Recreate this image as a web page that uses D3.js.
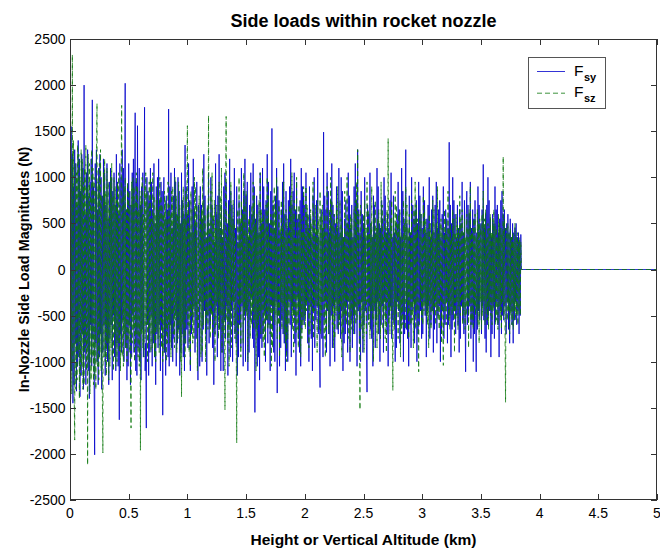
<!DOCTYPE html>
<html>
<head>
<meta charset="utf-8">
<script src="https://cdn.jsdelivr.net/npm/d3@7"></script>
<style>
  body { margin: 0; background: #fff; }
  text { font-family: "Liberation Sans", Arial, sans-serif; fill: #000; }
</style>
</head>
<body>
<div id="chart"></div>
<script>
// side loads (N), one sample every 0.005 km in 1 km pieces
var fsy0 = [
  1380, -1400, 1550, -1100, 1250, -1450, 900, -1250, 1300, -800,
  1150, -1320, 700, -1050, 1400, -950, 1200, -1380, 850, -1150,
  1250, -700, 1100, -1300, 2000, -900, 600, -1250, 1050, -850,
  1300, -1100, 800, -1400, 950, -600, 1200, -1050, 1840, -750,
  900, -1200, -2010, 1150, -800, 1300, -1000, 650, -1250, 1100,
  -950, 1250, -700, 1000, -1300, 800, -900, 1200, -600, 1050,
  -1150, 700, -850, 1150, -1000, 550, -1250, 950, -750, 1100,
  -600, 1000, -1200, 850, -500, 1050, -950, 700, -1100, 1250,
  -800, 950, -1050, 600, -1630, 1150, -700, 1000, -900, 1300,
  -550, 1100, -1000, 750, 2020, -850, 650, -1200, 900, -1050,
  1150, -600, 850, -1250, 700, -950, 1050, -500, 1200, -900,
  800, 1700, -1100, 950, -1150, 1560, -850, 600, 1100, -1000,
  700, -1200, 900, -650, 1050, -950, 550, 1760, -1100, -800,
  -1720, 1000, -600, 850, -1150, 750, -900, 1100, -500, 950,
  -1050, 650, -800, 1150, -950, 500, -1250, 900, -700, 1000,
  -850, 1200, -600, 750, -1100, 950, -650, 850, -1580, 700,
  1000, -900, 550, -1150, 800, -700, 650, -950, 1740, -1050,
  900, -600, 1050, -850, 450, -1000, 800, -750, 1100, -500,
  950, -1050, 600, -800, 1000, -650, 850, -1150, 500, -900,
  1050, -700, 750, -950, 600, -1100, 1350, -800, 900, -650
];
var fsy1 = [
  600, -850, 1150, -450, 750, -1100, 400, -700, 900, -550,
  1200, -400, 650, -900, 500, -750, 950, -600, -1200, 700,
  450, -1050, 900, -350, 700, -1000, 550, -650, 1250, -450,
  800, -700, 350, -1150, 650, -500, 1050, -800, 400, -600,
  1000, -450, 700, -850, 550, -1250, 300, -700, 1150, -400,
  600, -950, 800, -500, 1250, -650, 450, -1100, 700, -900,
  350, -1100, 900, -550, 1050, -750, 950, -400, 500, -1150,
  750, -600, 1200, -950, 850, -450, 700, -1000, 550, -350,
  1100, -700, 450, -800, 900, -1150, 300, -950, 750, -600,
  500, -850, 1100, -400, 650, -1050, 850, -500, 1200, -1000,
  800, -450, 950, -1100, 350, -900, 700, -550, 1050, -300,
  600, -750, 1150, -850, 900, -1550, 550, -650, 800, -1050,
  700, -950, 400, -1200, 1050, -750, 500, -850, 1100, -700,
  900, -450, 650, -1000, 750, -550, 1250, -800, 950, -600,
  500, -1100, 850, -400, 1530, -650, 700, -900, 450, -1000,
  800, -350, 1100, -1340, 900, -500, 750, -1050, 400, -850,
  650, -550, 950, -700, 1150, -800, 600, -1100, 850, -900,
  450, -1000, 750, -350, 900, -600, 1200, -950, 700, -400,
  850, -500, 1050, -800, 650, -1150, 950, -300, 550, -750,
  600, -900, 750, -1050, 1100, -650, 900, -550, 800, -600
];
var fsy2 = [
  700, -500, 1050, -350, 600, -800, 450, -1000, 900, -400,
  550, -750, 350, -1100, 800, -450, 1000, -850, 400, -550,
  750, -400, 1100, -700, 350, -900, -1280, 500, 650, -750,
  450, -950, 1490, -550, 800, -350, 650, -900, 1050, -450,
  850, -700, 400, -1050, 750, -500, 1150, -850, 700, -400,
  600, -1000, 500, -350, 900, -650, 450, -700, 1100, -550,
  400, -750, 1000, -450, 850, -1100, 350, -800, 550, -700,
  750, -400, 500, -900, 1050, -350, 800, -1000, 450, -550,
  700, -850, 350, -500, 900, -700, 1150, -400, 750, -1050,
  1300, -450, 650, -800, 400, -1000, 850, -350, 600, -900,
  500, -600, 1000, -450, 350, -800, -1330, 700, -550, 600,
  -400, 1050, -650, 500, -750, 350, -1050, 800, -450, 700,
  -850, 400, -550, 1100, -350, 900, -700, 500, -1000, 450,
  -600, 750, -400, 550, -900, 1000, -350, 800, -550, 400,
  -700, 600, -1050, 450, -500, 750, -400, 1050, -750, 350,
  -550, 800, -600, 400, -1000, 500, -850, 600, -350, 950,
  -450, 650, -800, 350, -600, 1100, -500, 850, -1000, 550,
  -700, 450, 1300, -650, 500, -750, 350, -1050, 800, -600,
  400, -850, 1000, -450, 700, -350, 550, -800, 650, -500,
  750, -1000, 500, -700, 950, -600, 800, -450, 600, -750
];
var fsy3 = [
  450, -700, 900, -350, 750, -500, 400, -950, 550, -450,
  700, -400, 1000, -750, 350, -600, 650, -450, 800, -900,
  400, -650, 700, -350, 950, -800, 450, -500, 650, -400,
  750, -1000, 350, -700, 600, -450, 900, -750, 400, -600,
  650, -350, 550, -800, 450, -600, 1380, -500, 700, -950,
  500, -650, 1000, -550, 750, -450, 600, -700, 350, -500,
  700, -600, 450, -900, 650, -750, 500, -400, 950, -550,
  400, -700, 750, -450, -1110, 550, 850, -600, 700, -500,
  600, -400, 950, -750, 450, -600, 650, -1000, 550, -700,
  750, -500, -1110, 400, -650, 900, -450, 700, -550, 350,
  500, -700, 650, -400, 1140, -550, 450, -750, 600, -900,
  700, -600, 1000, -500, 750, -450, 550, -950, 350, -700,
  600, -400, 500, -750, 900, -550, 650, -350, 700, -600,
  400, -950, 550, -450, 750, -700, 850, -500, 600, -550,
  650, -400, 450, -700, 500, -350, 600, -650, 400, -800,
  550, -450, 350, -600, 500, -800, 400, -550, 450, -350,
  500, -600, 350, -450, 400, -700, 300, -500, 380
];

var fsz0 = [
  1300, -1100, 1200, -1350, 2330, -1000, 1400, -1250, -1850, 1150,
  -1300, 1050, -1200, 1350, -900, 1250, -1400, 1000, -1150, 1300,
  -1050, 1200, -1300, 950, -1250, 1100, -850, 1350, -1100, 900,
  -2120, 1250, -1000, 1150, -1350, 800, -1200, 1300, -950, 1100,
  -1250, 1000, -1150, 850, -1300, 1200, 1800, -1050, 950, -1200,
  1150, -900, 1300, -1100, 800, -1250, -1990, 1050, -950, 1200,
  -1000, 850, -1150, 1100, -800, 950, -1200, 700, -1050, 1000,
  -850, 1150, -950, 800, -1100, 1000, -700, 900, -1050, 750,
  -1000, 950, -800, 1050, -900, 700, -1100, 850, 1780, -950,
  800, -1050, 900, -700, 1000, -850, 650, -1000, 950, -750,
  850, -900, 700, -1050, -1720, 950, -800, 1000, -650, 900,
  -1000, 750, -850, 1050, -700, 900, -950, 650, -1050, 850,
  -1960, 800, -700, 1000, -850, 600, -950, 900, -750, 1050,
  -600, 850, -1000, 700, -800, 950, -650, 1000, -900, 550,
  -850, 1050, -700, 800, -950, 600, -1000, 750, -650, 900,
  -750, 650, -900, 1000, -550, 800, -850, 700, -1000, 600,
  -900, 850, -650, 750, -1000, 550, -800, 950, -600, 700,
  -800, 600, -950, 850, -500, 900, -700, 650, -850, 1000,
  -550, 800, -900, 600, -750, 950, -650, 700, -1000, 500,
  -1380, 750, -600, 900, -800, 550, -950, 850, -500, 700
];
var fsz1 = [
  1560, -600, 750, -900, 450, -1050, 850, -500, 650, -800,
  400, -750, 1000, -450, 900, -550, 700, -1100, 350, -650,
  800, -400, 550, -950, 650, -900, 1100, -600, 750, -350,
  600, -1000, 400, -550, 700, -650, 1670, -450, 500, -750,
  850, -500, 1050, -700, 600, -400, 750, -1000, 450, -600,
  700, -350, 550, -750, 950, -650, 800, -500, 1100, -900,
  450, -700, 650, -400, -1520, 750, 1660, -550, 350, -800,
  600, -1050, 700, -650, 950, -850, 550, -350, 750, -600,
  500, -750, 350, -550, -1880, 650, 450, -700, 1000, -400,
  550, -950, 750, -350, 600, -800, 1050, -550, 700, -450,
  850, -500, 400, -1000, 550, -350, 650, -750, 450, -600,
  700, -450, 950, -650, 800, -550, 500, -1100, 600, -750,
  400, -600, 750, -500, 1050, -700, 650, -450, 550, -800,
  600, -950, 450, -750, 700, -550, 1000, -650, 800, -500,
  350, -700, 600, -1050, 550, -850, 750, -450, 900, -600,
  650, -500, 1000, -750, 350, -600, 700, -950, 450, -350,
  750, -650, 500, -400, 950, -700, 350, -800, 650, -1000,
  550, -750, 400, -600, 700, -350, 800, -500, 1050, -650,
  600, -900, 750, -550, 350, -700, 1000, -650, 400, -850,
  700, -450, 600, -950, 550, -750, 400, -600, 900, -500
];
var fsz2 = [
  400, -650, 900, -450, 700, -350, 600, -850, 450, -700,
  650, -400, 500, -600, 950, -750, 550, -450, 700, -350,
  450, -900, 750, -400, 550, -650, 850, -700, 600, -500,
  700, -350, 450, -750, 600, -950, 400, -650, 900, -450,
  350, -700, 650, -550, 1000, -400, 750, -600, 500, -850,
  600, -750, 400, -500, 700, -450, 900, -650, 350, -600,
  750, -400, 550, -950, 450, -700, 350, -500, 850, -550,
  400, -600, 1000, -350, 550, -750, 450, -900, 600, -650,
  550, -450, 350, -700, 650, -500, 750, -600, 950, -550,
  1300, -400, 600, -550, -1520, 700, 450, -650, 350, -750,
  600, -900, 750, -400, 450, -700, 950, -350, 650, -600,
  400, -750, 500, -450, 900, -550, 350, -1000, 600, -400,
  750, -600, 450, -850, 550, -700, 650, -500, 400, -750,
  950, -400, 700, -650, 350, -500, 600, -750, 450, -900,
  650, -350, 1420, -600, 400, -700, 550, -450, 750, -500,
  -1310, 600, 450, -650, 850, -550, 700, -400, 500, -750,
  600, -450, 650, -950, 400, -700, 350, -600, 750, -400,
  500, -650, 900, -350, 700, -500, 450, -750, 600, -450,
  400, -600, 750, -550, 350, -850, 650, -400, 950, -650,
  700, -450, 550, -600, -1110, 400, 650, -350, 600, -550
];
var fsz3 = [
  350, -600, 800, -450, 650, -400, 550, -500, 400, -600,
  450, -850, 600, -350, 500, -650, 400, -450, 750, -500,
  650, -400, 350, -600, 500, -450, 900, -550, 400, -650,
  500, -350, 550, -800, 450, -500, -1040, 400, 650, -450,
  550, -600, 400, -350, 850, -550, 450, -650, 500, -400,
  350, -500, 650, -450, 550, -900, 400, -550, 600, -350,
  500, -650, 450, -400, 800, -500, 550, -350, 650, -600,
  400, -450, 550, -650, 350, -500, 600, -400, 450, -850,
  650, -350, 900, -600, 400, -550, 450, -650, 550, -400,
  600, -500, 350, -450, 650, -600, 500, -800, 550, -350,
  450, -650, 600, -500, 850, -350, 550, -600, 650, -450,
  350, -550, 500, -650, 450, -400, 600, -500, 400, -600,
  550, -450, 650, -350, 500, -600, 450, -550, 350, -650,
  600, -400, 500, -550, 450, -650, 400, -350, 1225, -500,
  550, -600, -1440, 450, 350, -550, 500, -450, 400, -700,
  450, -500, 350, -600, 400, -650, 300, -450, 500, -550,
  350, -500, 400, -600, 300, -450, 350, -500, 300
];
var stepKm = 0.005;
// after burnout both loads sit at zero
var tailKm = [3.845, 5];
var tailN = [0, 0];

var xTicks = [0, 0.5, 1, 1.5, 2, 2.5, 3, 3.5, 4, 4.5, 5];
var xTickLabels = ["0", "0.5", "1", "1.5", "2", "2.5", "3", "3.5", "4", "4.5", "5"];
var yTicks = [-2500, -2000, -1500, -1000, -500, 0, 500, 1000, 1500, 2000, 2500];

var W = 660, H = 549;
var margin = {top: 39, right: 3, bottom: 49, left: 70},
    width = W - margin.left - margin.right,
    height = H - margin.top - margin.bottom;

var svg = d3.select("#chart").append("svg")
    .attr("width", W).attr("height", H);

var x = d3.scaleLinear().domain([0, 5]).range([margin.left, margin.left + width]);
var y = d3.scaleLinear().domain([-2500, 2500]).range([margin.top + height, margin.top]);

function series(vals) {
  var pts = vals.map(function(v, i) { return [i * stepKm, v]; });
  tailKm.forEach(function(k, i) { pts.push([k, tailN[i]]); });
  return pts;
}

function label(g, tx, ty, str, size, weight, anchor) {
  return g.append("text")
    .attr("x", tx).attr("y", ty)
    .attr("font-size", size)
    .attr("font-weight", weight)
    .attr("text-anchor", anchor)
    .text(str);
}

svg.append("clipPath").attr("id", "plotclip")
  .append("rect")
    .attr("x", margin.left).attr("y", margin.top)
    .attr("width", width).attr("height", height);

var line = d3.line()
    .x(function(d) { return x(d[0]); })
    .y(function(d) { return y(d[1]); });

var plot = svg.append("g").attr("clip-path", "url(#plotclip)");

plot.append("path")
    .datum(series(fsy0.concat(fsy1, fsy2, fsy3)))
    .attr("fill", "none")
    .attr("stroke", "#0000cc")
    .attr("stroke-width", 0.8)
    .attr("d", line);

plot.append("path")
    .datum(series(fsz0.concat(fsz1, fsz2, fsz3)))
    .attr("fill", "none")
    .attr("stroke", "#0b770b")
    .attr("stroke-width", 0.8)
    .attr("stroke-dasharray", "5,3")
    .attr("d", line);

// box and inward ticks, matlab style
var axisColor = "#333";
var tickLen = 6;
var frame = svg.append("g").attr("stroke", axisColor).attr("stroke-width", 1).attr("fill", "none");
frame.append("rect")
    .attr("x", margin.left + 0.5).attr("y", margin.top + 0.5)
    .attr("width", width - 1).attr("height", height - 1);

xTicks.forEach(function(t) {
  var px = Math.round(x(t)) + 0.5;
  frame.append("line").attr("x1", px).attr("x2", px)
    .attr("y1", margin.top + height).attr("y2", margin.top + height - tickLen);
  frame.append("line").attr("x1", px).attr("x2", px)
    .attr("y1", margin.top).attr("y2", margin.top + tickLen);
});
yTicks.forEach(function(t) {
  var py = Math.round(y(t)) + 0.5;
  frame.append("line").attr("y1", py).attr("y2", py)
    .attr("x1", margin.left).attr("x2", margin.left + tickLen);
  frame.append("line").attr("y1", py).attr("y2", py)
    .attr("x1", margin.left + width).attr("x2", margin.left + width - tickLen);
});

var texts = svg.append("g");
xTicks.forEach(function(t, i) {
  label(texts, x(t), 518, xTickLabels[i], 14, "normal", "middle");
});
yTicks.forEach(function(t) {
  label(texts, margin.left - 4.5, y(t) + 5, String(t), 14, "normal", "end");
});

label(texts, margin.left + width / 2, 27, "Side loads within rocket nozzle", 18, "bold", "middle");
label(texts, margin.left + width / 2, 545, "Height or Vertical Altitude (km)", 15.5, "bold", "middle");

texts.append("text")
    .attr("transform", "translate(29," + (margin.top + height / 2) + ") rotate(-90)")
    .attr("font-size", 14.5)
    .attr("font-weight", "bold")
    .attr("text-anchor", "middle")
    .text("In-Nozzle Side Load Magnitudes (N)");

// legend
var legend = svg.append("g");
legend.append("rect")
    .attr("x", 528.5).attr("y", 57.5).attr("width", 77).attr("height", 51)
    .attr("fill", "#fff").attr("stroke", "#555").attr("stroke-width", 1);

var legendItems = [
  {name: "F", sub: "sy", color: "#0000cc", dash: null},
  {name: "F", sub: "sz", color: "#0b770b", dash: "5,3"}
];
legendItems.forEach(function(d, i) {
  var ly = 71.5 + i * 21.7;
  legend.append("line")
    .attr("x1", 537).attr("x2", 565).attr("y1", ly).attr("y2", ly)
    .attr("stroke", d.color).attr("stroke-width", 0.8)
    .attr("stroke-dasharray", d.dash);
  label(legend, 574, ly + 4, d.name, 15.5, "normal", "start");
  label(legend, 584, ly + 9, d.sub, 11, "bold", "start");
});
</script>
</body>
</html>
